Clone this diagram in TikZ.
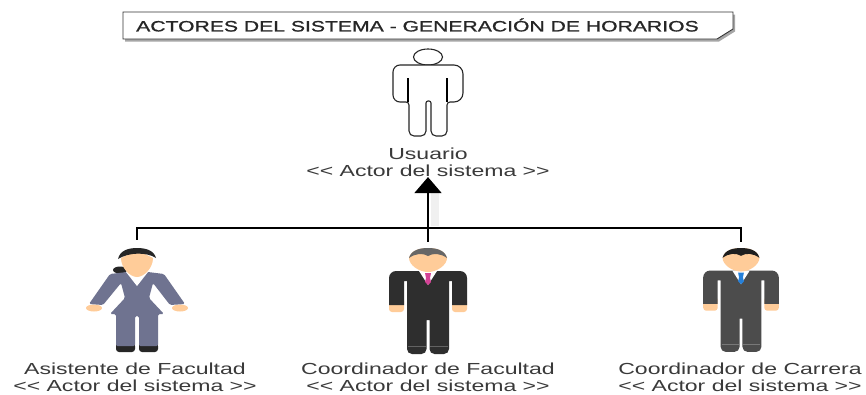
\documentclass[tikz,border=0pt]{standalone}
\usepackage{fontspec}
\usetikzlibrary{arrows.meta,shadows}
\setmainfont{Liberation Sans}
\newfontfamily\rotulofont[FakeStretch=1.44]{Liberation Sans}
\newfontfamily\titulofont[FakeStretch=1.41,FakeBold=1]{Liberation Sans}
\definecolor{piel}{HTML}{FFCC99}
\definecolor{textoactor}{HTML}{3A3A3A}
\definecolor{trajeasistente}{HTML}{6F7390}
\tikzset{
    pics/hombre/.style n args={3}{code={
        % manos
        \fill[piel, rounded corners=3pt] (-39,50) rectangle (-24,64);
        \fill[piel, rounded corners=3pt] (24,50) rectangle (39,64);
        % brazos y cuerpo
        \fill[#1, rounded corners=5pt] (-39,57) [sharp corners] -- (-39,57) [rounded corners=7pt] -- (-39,23) -- (39,23) [sharp corners] -- (39,57) -- (24,57) -- (24,33) -- (21,33)
            [rounded corners=5pt] -- (21,106) -- (1.5,106) [sharp corners] -- (1.5,72) -- (-1.5,72) [rounded corners=5pt] -- (-1.5,106) -- (-21,106) [sharp corners] -- (-21,33) -- (-24,33) -- (-24,57) -- cycle;
        \draw[white, opacity=.25, line width=.6pt] (-20,98) -- (-2,98) (2,98) -- (20,98);
        % cuello y corbata
        \fill[white] (-9,23) -- (0,37) -- (9,23) -- cycle;
        \fill[#3] (-3,25) -- (3,25) -- (2,30) -- (3,34) -- (0,37) -- (-3,34) -- (-2,30) -- cycle;
        % cabeza
        \fill[piel] (-19,10) .. controls (-19,17) and (-9,24) .. (0,24) .. controls (9,24) and (19,17) .. (19,10)
            .. controls (17,2) and (8,0) .. (0,0) .. controls (-8,0) and (-17,2) .. (-19,10) -- cycle;
        \fill[#2] (-19,10) .. controls (-17,2) and (-8,0) .. (0,0) .. controls (8,0) and (17,2) .. (19,10)
            .. controls (12,5) and (5,5) .. (0,8) .. controls (-5,5) and (-12,5) .. (-19,10) -- cycle;
    }}
}
\begin{document}
\begin{tikzpicture}[
        x=1pt, y=-1pt,
        actor/.style={align=center, text=textoactor, font=\rotulofont\fontsize{16}{17}\selectfont, inner sep=0pt},
        figura/.style={minimum width=80pt, minimum height=112pt, inner sep=0pt},
        linea/.style={black, line width=1.3pt}
    ]
        \useasboundingbox (0,0) rectangle (866,394);
        \fill[white] (0,0) rectangle (866,394);

        % Titulo
        \draw[black!80, line width=.9pt, fill=white, drop shadow={shadow xshift=2pt, shadow yshift=-2.5pt, opacity=.35, fill=black}]
            (123,12) -- (733,12) -- (733,29) -- (717,39) -- (123,39) -- cycle;
        \node[anchor=west, inner sep=0pt, font=\titulofont\fontsize{15}{16}\selectfont, text=black!85] (titulo) at (136,25) {ACTORES DEL SISTEMA - GENERACIÓN DE HORARIOS};

        % Usuario
        \draw[black!85, line width=1.1pt, fill=white] (428,57) ellipse (14.5 and 8);
        \draw[black!85, line width=1.1pt, fill=white, rounded corners=9pt] (393,65) [rounded corners=9pt] -- (463,65) -- (463,102) [rounded corners=3pt] -- (447,102) [rounded corners=5pt] -- (447,136) -- (431,136)
            [rounded corners=2pt] -- (431,101) -- (426,101) [rounded corners=5pt] -- (426,136) -- (409,136) [rounded corners=3pt] -- (409,102) [rounded corners=7pt] -- (393,102) -- cycle;
        \draw[black, line width=1.8pt] (408,78) -- (408,102) (447,78) -- (447,102);
        \node[actor] (usuario) at (428,162.5) {Usuario\\<{}< Actor del sistema >{}>};

        % Asistente
        \begin{scope}[shift={(137,248)}]
            \fill[black!85] (-17,22) ellipse (7 and 3.5);
            \fill[piel] (-43,60) ellipse (8 and 3.5);
            \fill[piel] (43,60) ellipse (8 and 3.5);
            \fill[black!85, rounded corners=3pt] (-21,95) rectangle (-2,104) (2,95) rectangle (21,104);
            \fill[trajeasistente, rounded corners=1.5pt] (-27,26) -- (-10,24) -- (11,24) -- (27,26) -- (48,56) -- (33,57) -- (16,35) -- (12,50) -- (27,66) -- (21,66)
                -- (21,98) -- (2,98) -- (2,68) -- (-2,68) -- (-2,98) -- (-21,98) -- (-21,66) -- (-27,66) -- (-12,50) -- (-16,35) -- (-34,57) -- (-48,56) -- cycle;
            \fill[white] (-11,24) -- (0,38) -- (11,24) -- cycle;
            \fill[piel] (-16,10) .. controls (-16,20) and (-7,29) .. (0,29) .. controls (7,29) and (16,20) .. (16,10) -- (0,2) -- cycle;
            \fill[black!85] (-19,11) .. controls (-17,2) and (-8,0) .. (0,0) .. controls (8,0) and (17,2) .. (19,10)
                .. controls (10,4) and (-8,4) .. (-19,11) -- cycle;
        \end{scope}
        \node[figura] (asistente) at (137,296) {};
        \node[actor] (etiquetaasistente) at (135,377) {Asistente de Facultad\\<{}< Actor del sistema >{}>};

        % Coordinador de Facultad
        \pic at (428,248) {hombre={black!82}{black!60}{magenta!70!gray}};
        \node[figura] (facultad) at (428,298) {};
        \node[actor] (etiquetafacultad) at (428,377) {Coordinador de Facultad\\<{}< Actor del sistema >{}>};

        % Coordinador de Carrera
        \pic[xscale=.97, yscale=.98] at (741,248) {hombre={black!70}{black!88}{blue!50!cyan!70!gray}};
        \node[figura] (carrera) at (741,298) {};
        \node[actor] (etiquetacarrera) at (740,377) {Coordinador de Carrera\\<{}< Actor del sistema >{}>};

        % Conexiones
        \coordinate (union) at (428,228);
        \draw[linea] (asistente.north) |- (union);
        \draw[linea] (carrera.north) |- (union);
        \draw[black!6, line width=8pt] (435,226) -- (435,190);
        \draw[linea, line width=1.7pt, -{Triangle[length=16pt, width=27pt]}] (facultad.north) -- (usuario.south);
\end{tikzpicture}
\end{document}
